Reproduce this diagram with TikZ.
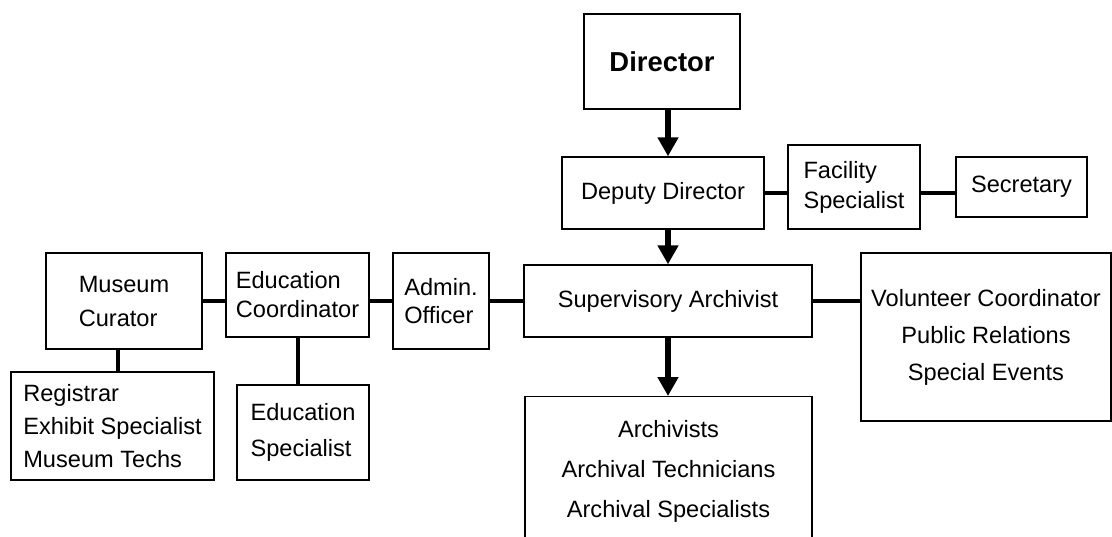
\documentclass[tikz,border=0pt]{standalone}
\usepackage{fontspec}
\setmainfont{Liberation Sans}
\usetikzlibrary{positioning, arrows.meta}
\tikzset{->,>={Triangle[width=10pt,length=9.5pt]},
every node/.style={font=\fontsize{11.8}{14.5}\selectfont},
post/.style={draw, line width=0.7pt, inner sep=0pt, align=left},
link/.style={-, line width=2pt},
boss/.style={->, line width=3.2pt},
}

\begin{document}
\begin{tikzpicture}[x=0.5pt, y=-0.5pt]
    \useasboundingbox (0,0) rectangle (1112,536);
    \node[post, minimum width=78pt, minimum height=47.5pt, font=\fontsize{13.7}{16}\selectfont\bfseries] (dir) at (662,61.5) {Director};
    \node[post, minimum width=101pt, minimum height=36pt] (dep) at (663,193) {Deputy Director};
    \node[post, minimum width=66pt, minimum height=42pt] (fac) at (854,187) {Facility\\[0.5pt]Specialist};
    \node[post, minimum width=65.5pt, minimum height=30pt] (sec) at (1021.5,187) {Secretary};
    \node[post, minimum width=144pt, minimum height=36pt] (sup) at (668,301) {Supervisory Archivist};
    \node[post, align=center, minimum width=125pt, minimum height=84pt] (vol) at (986,337) {Volunteer Coordinator\\[4pt]Public Relations\\[4pt]Special Events};
    \node[post, minimum width=48pt, minimum height=48pt] (adm) at (441,301) {Admin.\\[-0.5pt]Officer};
    \node[post, minimum width=71.5pt, minimum height=42pt] (edc) at (297.5,295) {Education\\Coordinator};
    \node[post, minimum width=78pt, minimum height=48pt] (mus) at (124,301) {Museum\\[2.5pt]Curator};
    \node[post, minimum width=101.5pt, minimum height=54pt] (reg) at (112.5,426) {Registrar\\[2pt]Exhibit Specialist\\[2pt]Museum Techs};
    \node[post, minimum width=66pt, minimum height=47.5pt] (eds) at (303,432.5) {Education\\[3.5pt]Specialist};
    \node[post, align=center, anchor=north, minimum width=143.5pt, inner ysep=12pt] (arc) at (668.5,396) {Archivists\\[5.5pt]Archival Technicians\\[5.5pt]Archival Specialists};

    \draw[boss] (dir.south -| sup.north) -- (dep.north -| sup.north);
    \draw[boss] (dep.south -| sup.north) -- (sup.north);
    \draw[boss] (sup.south) -- (arc.north -| sup.south);

    \draw[link] (dep.east) -- (dep.east -| fac.west);
    \draw[link] (fac.east |- dep.east) -- (sec.west |- dep.east);
    \draw[link] (sup.east) -- (sup.east -| vol.west);
    \draw[link] (adm.east) -- (sup.west);
    \draw[link] (edc.east |- adm.west) -- (adm.west);
    \draw[link] (mus.east) -- (mus.east -| edc.west);
    \draw[link] ([xshift=-3pt]mus.south) -- ([xshift=-3pt]mus.south |- reg.north);
    \draw[link] (edc.south) -- (edc.south |- eds.north);
\end{tikzpicture}
\end{document}
